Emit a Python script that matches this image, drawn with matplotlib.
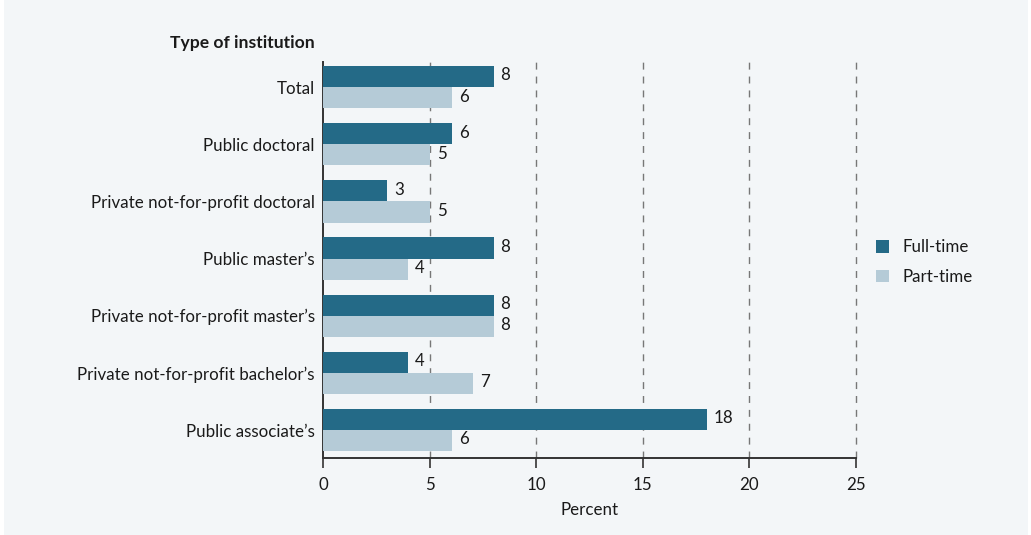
import matplotlib
matplotlib.use("Agg")
import matplotlib.pyplot as plt
from matplotlib.patches import Rectangle
import numpy as np

plt.rcParams["font.family"] = ["Lato", "DejaVu Sans"]

categories = ["Total", "Public doctoral", "Private not-for-profit doctoral",
              "Public master\u2019s", "Private not-for-profit master\u2019s",
              "Private not-for-profit bachelor\u2019s", "Public associate\u2019s"]
full_time = [8.0, 6.05, 3.0, 8.0, 8.0, 4.0, 18.0]
part_time = [6.05, 5.0, 5.0, 4.0, 8.0, 7.05, 6.05]
full_labels = ["8", "6", "3", "8", "8", "4", "18"]
part_labels = ["6", "5", "5", "4", "8", "7", "6"]
xticks = [0, 5, 10, 15, 20, 25]

DARK = "#246a87"
LIGHT = "#b5cbd7"
BG = "#f3f6f8"
TXT = "#1a1a1a"
FS = 12.2

fig = plt.figure(figsize=(10.31, 5.35), dpi=100)
fig.patch.set_facecolor("white")
fig.add_artist(Rectangle((4 / 1031, 0), 1024 / 1031, 1, transform=fig.transFigure,
                         fc=BG, ec="none", zorder=-10))

ax = fig.add_axes([323 / 1031, 1 - 458 / 535, 533 / 1031, 396 / 535])
ax.set_facecolor("none")

y = np.arange(len(categories))
h = 0.37
ax.barh(y - h / 2, full_time, height=h, color=DARK, label="Full-time", zorder=3)
ax.barh(y + h / 2, part_time, height=h, color=LIGHT, label="Part-time", zorder=3)
for yi, v, s in zip(y, full_time, full_labels):
    ax.text(v + 0.33, yi - h / 2 - 0.02, s, va="center", ha="left", fontsize=FS, color=TXT)
for yi, v, s in zip(y, part_time, part_labels):
    ax.text(v + 0.33, yi + h / 2 - 0.02, s, va="center", ha="left", fontsize=FS, color=TXT)

ax.set_ylim(6.49, -0.44)
ax.set_xlim(0, 25)
ax.set_yticks(y)
ax.set_yticklabels(categories, fontsize=FS, color=TXT)
ax.tick_params(axis="y", length=0, pad=6)
ax.set_xticks(xticks)
ax.set_xticklabels([str(t) for t in xticks], fontsize=FS, color=TXT)
ax.tick_params(axis="x", length=7, width=1.2, color="#333333", pad=7)
ax.set_xlabel("Percent", fontsize=FS, color=TXT, labelpad=6)

for t in xticks[1:]:
    ax.axvline(t, color="#777777", lw=1, ls=(0, (5, 5)), zorder=1, clip_on=False)

for side in ["top", "right"]:
    ax.spines[side].set_visible(False)
ax.spines["left"].set_color("#333333")
ax.spines["left"].set_linewidth(1.4)
ax.spines["bottom"].set_color("#333333")
ax.spines["bottom"].set_linewidth(1.4)

fig.text(315 / 1031, 1 - 43 / 535, "Type of institution", ha="right", va="center",
         fontsize=12.6, fontweight="bold", color=TXT)

fig.legend(loc="center left", bbox_to_anchor=(861 / 1031, 1 - 262 / 535), frameon=False,
           fontsize=FS, handlelength=0.75, handleheight=0.75, labelspacing=0.8,
           handletextpad=0.8, labelcolor=TXT)

fig.savefig("out.png", dpi=100, facecolor=fig.get_facecolor())
